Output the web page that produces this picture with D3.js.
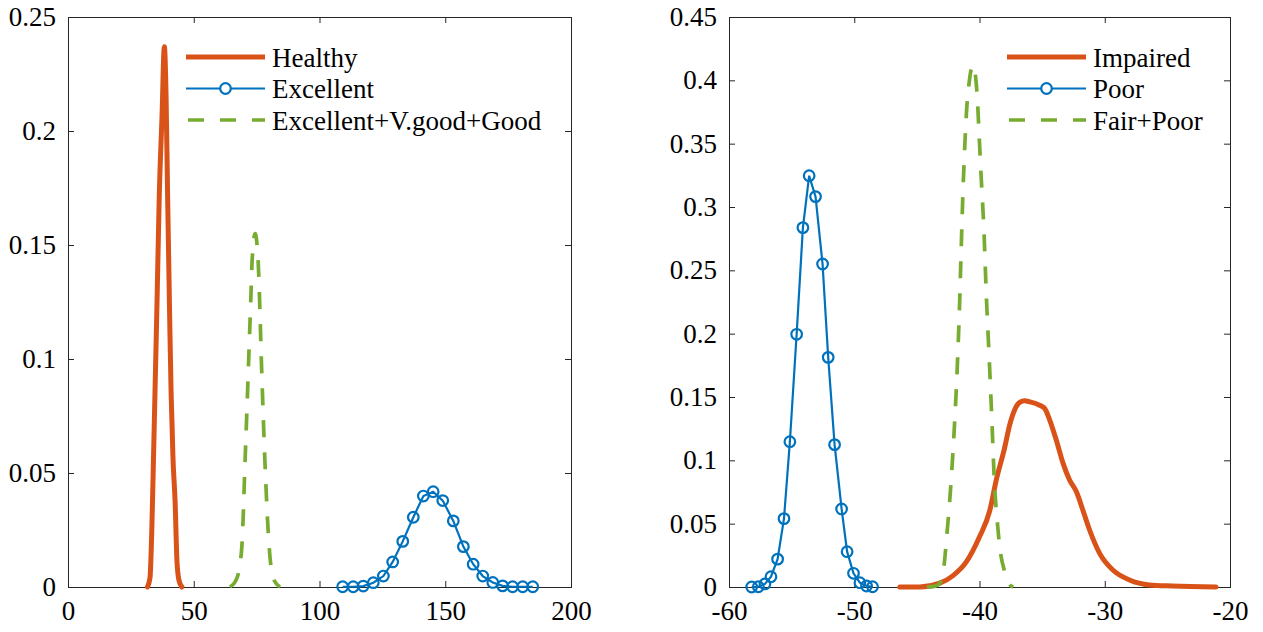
<!DOCTYPE html>
<html>
<head>
<meta charset="utf-8">
<script src="https://cdn.jsdelivr.net/npm/d3@7"></script>
<style>
  html, body { margin: 0; padding: 0; background: #ffffff; }
  svg { display: block; font-family: "Liberation Serif", "Times New Roman", serif; }
</style>
</head>
<body>
<svg id="chart" width="1263" height="632"></svg>
<script>
// ---------- Left panel data ----------
const leftXTicks = [0, 50, 100, 150, 200];
const leftYTicks = [0, 0.05, 0.1, 0.15, 0.2, 0.25];
const leftLegend = ["Healthy", "Excellent", "Excellent+V.good+Good"];

const healthyX = [31.6, 32.6, 33.3, 33.8, 34.6, 35.4, 36.3, 37.4, 38.3, 39.0, 39.6, 40.4, 41.0, 41.35, 41.7, 42.6, 43.3, 44.1, 45.3];
const healthyY = [0, 0.004, 0.024, 0.047, 0.086, 0.125, 0.172, 0.207, 0.237, 0.215, 0.172, 0.12, 0.085, 0.072, 0.058, 0.037, 0.012, 0.003, 0];

const excellentX = [109.2, 113.4, 117.4, 121.4, 125.4, 129.1, 133.1, 137.3, 141.3, 145.2, 149.0, 153.2, 157.2, 161.1, 164.9, 168.9, 172.8, 176.8, 180.8, 184.8];
const excellentY = [0.0001, 0.0001, 0.0004, 0.0019, 0.0048, 0.011, 0.020, 0.0306, 0.0399, 0.0418, 0.0379, 0.029, 0.0177, 0.010, 0.0048, 0.002, 0.0005, 0.0001, 0.0001, 0.0001];

const egoodX = [64.4, 66.8, 68.4, 69.2, 70.4, 71.6, 72.8, 73.2, 74.4, 75.6, 77.1, 78.3, 79.9, 81.5, 84.3];
const egoodY = [0, 0.003, 0.01, 0.019, 0.055, 0.092, 0.13, 0.143, 0.155, 0.143, 0.092, 0.055, 0.019, 0.004, 0];

// ---------- Right panel data ----------
const rightXTicks = [-60, -50, -40, -30, -20];
const rightYTicks = [0, 0.05, 0.1, 0.15, 0.2, 0.25, 0.3, 0.35, 0.4, 0.45];
const rightLegend = ["Impaired", "Poor", "Fair+Poor"];

const impairedX = [-46.36, -44.77, -43.17, -42.11, -41.04, -39.98, -39.19, -38.65, -37.99, -37.59, -37.19, -36.79, -36.39, -36.0, -35.2, -34.8, -34.4, -33.87, -33.34, -32.81, -32.27, -31.75, -31.21, -30.41, -29.35, -28.02, -26.43, -24.6, -21.11];
const impairedY = [0, 0, 0.003, 0.009, 0.02, 0.04, 0.06, 0.085, 0.11, 0.128, 0.14, 0.1457, 0.147, 0.1462, 0.1435, 0.141, 0.132, 0.116, 0.098, 0.0845, 0.0753, 0.0608, 0.045, 0.0266, 0.0134, 0.0055, 0.0016, 0.0008, 0];

const poorX = [-58.19, -57.66, -57.13, -56.65, -56.12, -55.61, -55.14, -54.60, -54.10, -53.60, -53.09, -52.53, -52.08, -51.57, -51.01, -50.57, -50.06, -49.55, -49.02, -48.54];
const poorY = [0, 0.0002, 0.0024, 0.0081, 0.022, 0.054, 0.1147, 0.1995, 0.2837, 0.3247, 0.3082, 0.255, 0.1813, 0.1124, 0.0616, 0.0279, 0.0108, 0.0034, 0.0008, 0.0002];

const fairPoorX = [-44.2, -43.6, -43.17, -42.83, -42.59, -42.38, -42.03, -41.79, -41.6, -41.45, -41.32, -41.18, -41.05, -40.84, -40.52, -40.2, -40.04, -39.9, -39.64, -39.45, -39.24, -39.03, -38.79, -38.6, -38.39, -37.99, -37.6, -37.3];
const fairPoorY = [0, 0.0005, 0.003, 0.017, 0.043, 0.068, 0.122, 0.17, 0.22, 0.271, 0.312, 0.347, 0.373, 0.397, 0.412, 0.39, 0.359, 0.33, 0.28, 0.229, 0.184, 0.136, 0.079, 0.054, 0.032, 0.012, 0.002, 0];

// ---------- Styles ----------
const ORANGE = "#D95319", BLUE = "#0072BD", GREEN = "#77AC30", AXIS = "#262626";
const FONT = 27;

const svg = d3.select("#chart");

function zip(xs, ys) { return xs.map((x, i) => ({ x: x, y: ys[i] })); }

function panel(cfg) {
  const x = d3.scaleLinear().domain(cfg.xDomain).range([cfg.left, cfg.right]);
  const y = d3.scaleLinear().domain(cfg.yDomain).range([cfg.bottom, cfg.top]);
  const g = svg.append("g");
  const fmt = d => String(+d.toFixed(2));

  const styleAxis = sel => {
    sel.selectAll("path.domain").attr("stroke", AXIS).attr("stroke-width", 1);
    sel.selectAll(".tick line").attr("stroke", AXIS).attr("stroke-width", 1);
    sel.selectAll(".tick text").attr("fill", "#000").style("font-size", FONT + "px")
      .style("font-family", '"Liberation Serif", "Times New Roman", serif');
  };
  g.append("g").attr("transform", `translate(0,${cfg.bottom})`)
    .call(d3.axisBottom(x).tickValues(cfg.xTicks).tickFormat(d => String(d)).tickSizeInner(-6).tickSizeOuter(0).tickPadding(14))
    .call(styleAxis);
  g.append("g").attr("transform", `translate(0,${cfg.top})`)
    .call(d3.axisTop(x).tickValues(cfg.xTicks).tickFormat("").tickSizeInner(-6).tickSizeOuter(0))
    .call(styleAxis);
  g.append("g").attr("transform", `translate(${cfg.left},0)`)
    .call(d3.axisLeft(y).tickValues(cfg.yTicks).tickFormat(fmt).tickSizeInner(-6).tickSizeOuter(0).tickPadding(12))
    .call(styleAxis);
  g.append("g").attr("transform", `translate(${cfg.right},0)`)
    .call(d3.axisRight(y).tickValues(cfg.yTicks).tickFormat("").tickSizeInner(-6).tickSizeOuter(0))
    .call(styleAxis);
  g.selectAll(".domain").attr("shape-rendering", "crispEdges");

  const smooth = d3.line().x(d => x(d.x)).y(d => y(d.y)).curve(d3.curveMonotoneX);
  const straight = d3.line().x(d => x(d.x)).y(d => y(d.y));

  g.append("path").datum(zip(cfg.s1x, cfg.s1y)).attr("d", smooth)
    .attr("fill", "none").attr("stroke", ORANGE).attr("stroke-width", 5).attr("stroke-linejoin", "round").attr("stroke-linecap", "round");
  const s2 = zip(cfg.s2x, cfg.s2y);
  g.append("path").datum(s2).attr("d", straight)
    .attr("fill", "none").attr("stroke", BLUE).attr("stroke-width", 2.2);
  g.selectAll("circle.mk").data(s2).enter().append("circle").attr("class", "mk")
    .attr("cx", d => x(d.x)).attr("cy", d => y(d.y)).attr("r", 5.3)
    .attr("fill", "none").attr("stroke", BLUE).attr("stroke-width", 2.2);
  g.append("path").datum(zip(cfg.s3x, cfg.s3y)).attr("d", smooth)
    .attr("fill", "none").attr("stroke", GREEN).attr("stroke-width", 3.7).attr("stroke-dasharray", "17,15");

  const lg = g.append("g");
  const rowY = [57, 88.5, 120];
  const lx0 = cfg.legX, lx1 = cfg.legX + 79;
  lg.append("line").attr("x1", lx0).attr("x2", lx1).attr("y1", rowY[0]).attr("y2", rowY[0])
    .attr("stroke", ORANGE).attr("stroke-width", 5);
  lg.append("line").attr("x1", lx0).attr("x2", lx1).attr("y1", rowY[1]).attr("y2", rowY[1])
    .attr("stroke", BLUE).attr("stroke-width", 2.2);
  lg.append("circle").attr("cx", (lx0 + lx1) / 2).attr("cy", rowY[1]).attr("r", 5.3)
    .attr("fill", "#fff").attr("stroke", BLUE).attr("stroke-width", 2.2);
  lg.append("line").attr("x1", lx0 + 2).attr("x2", lx1).attr("y1", rowY[2]).attr("y2", rowY[2])
    .attr("stroke", GREEN).attr("stroke-width", 3.7).attr("stroke-dasharray", "16,16");
  cfg.legend.forEach((t, i) => {
    lg.append("text").attr("x", lx1 + 7).attr("y", rowY[i] + 9.5)
      .style("font-size", FONT + "px").attr("fill", "#000").text(t);
  });
}

panel({
  left: 68, right: 571, top: 17, bottom: 587,
  xDomain: [0, 200], yDomain: [0, 0.25],
  xTicks: leftXTicks, yTicks: leftYTicks,
  s1x: healthyX, s1y: healthyY,
  s2x: excellentX, s2y: excellentY,
  s3x: egoodX, s3y: egoodY,
  legend: leftLegend, legX: 186
});

panel({
  left: 729, right: 1230, top: 17, bottom: 587,
  xDomain: [-60, -20], yDomain: [0, 0.45],
  xTicks: rightXTicks, yTicks: rightYTicks,
  s1x: impairedX, s1y: impairedY,
  s2x: poorX, s2y: poorY,
  s3x: fairPoorX, s3y: fairPoorY,
  legend: rightLegend, legX: 1007
});
</script>
</body>
</html>
